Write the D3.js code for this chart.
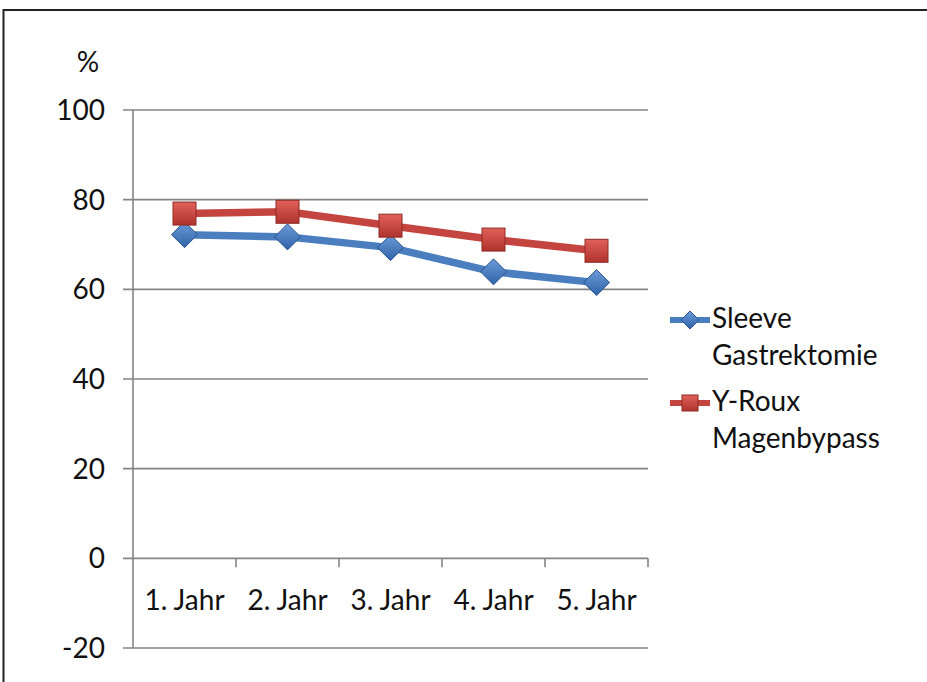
<!DOCTYPE html>
<html><head><meta charset="utf-8">
<script src="https://cdn.jsdelivr.net/npm/d3@7"></script>
<style>
html,body{margin:0;padding:0;background:#fff;}
svg{display:block;}
text{font-family:Lato,"Open Sans",sans-serif;fill:#111;}
</style></head>
<body>
<svg id="chart" width="927" height="682"></svg>
<script>
const categories = ["1. Jahr","2. Jahr","3. Jahr","4. Jahr","5. Jahr"];
const sleeve = [72.2, 71.7, 69.3, 63.9, 61.5];
const bypass = [76.9, 77.3, 74.2, 71.1, 68.6];
const seriesNames = [["Sleeve","Gastrektomie"],["Y-Roux","Magenbypass"]];
const yTicks = [-20, 0, 20, 40, 60, 80, 100];
const yUnit = "%";

const svg = d3.select("#chart");
const W = 927, H = 682;
const plot = {left:133, right:648, top:110, bottom:648};

const defs = svg.append("defs");
function grad(id, c1, c2){
  const g = defs.append("linearGradient").attr("id", id).attr("x1","0").attr("y1","0").attr("x2","0").attr("y2","1");
  g.append("stop").attr("offset","0%").attr("stop-color", c1);
  g.append("stop").attr("offset","100%").attr("stop-color", c2);
}
grad("gBlue", "#6c9bd8", "#2f63a8");
grad("gRed", "#e0625b", "#b0322c");

// frame (only top and left visible; cropped)
svg.append("rect").attr("x",3.5).attr("y",10).attr("width",W+20).attr("height",H+20)
  .attr("fill","none").attr("stroke","#222").attr("stroke-width",2);

const x = d3.scaleBand().domain(categories).range([plot.left, plot.right]).padding(0);
const y = d3.scaleLinear().domain([-20, 100]).range([plot.bottom, plot.top]);

// gridlines
svg.append("g").selectAll("line").data(yTicks).join("line")
  .attr("x1", plot.left - 10).attr("x2", plot.right)
  .attr("y1", d => y(d)).attr("y2", d => y(d))
  .attr("stroke", "#858585").attr("stroke-width", 1.6);

// y axis line
svg.append("line").attr("x1", plot.left).attr("x2", plot.left)
  .attr("y1", y(100)).attr("y2", y(-20)).attr("stroke","#858585").attr("stroke-width",1.6);

// y labels
svg.append("g").selectAll("text").data(yTicks).join("text")
  .attr("x", 105).attr("y", d => y(d)).attr("dy","0.36em")
  .attr("text-anchor","end").attr("font-size",28).text(d => d);

svg.append("text").attr("x", 88).attr("y", 72).attr("text-anchor","middle")
  .attr("font-size",28).text(yUnit);

// category ticks along 0 line
const boundaries = categories.map(c => x(c) + x.bandwidth());
svg.append("g").selectAll("line").data(boundaries).join("line")
  .attr("x1", d => d).attr("x2", d => d)
  .attr("y1", y(0)).attr("y2", y(0) + 9)
  .attr("stroke","#858585").attr("stroke-width",1.6);

// category labels
svg.append("g").selectAll("text").data(categories).join("text")
  .attr("x", d => x(d) + x.bandwidth()/2).attr("y", y(0) + 52)
  .attr("text-anchor","middle").attr("font-size",28).text(d => d);

const cx = (d,i) => x(categories[i]) + x.bandwidth()/2;
const line = d3.line().x((d,i) => cx(d,i)).y(d => y(d));

// lines
svg.append("path").datum(sleeve).attr("d", line).attr("fill","none")
  .attr("stroke","#4a7ebf").attr("stroke-width",7.5).attr("stroke-linejoin","round");
svg.append("path").datum(bypass).attr("d", line).attr("fill","none")
  .attr("stroke","#c4453f").attr("stroke-width",7.5).attr("stroke-linejoin","round");

const diamond = s => `M0,${-s}L${s},0L0,${s}L${-s},0Z`;

// markers
svg.append("g").selectAll("path").data(sleeve).join("path")
  .attr("transform", (d,i) => `translate(${cx(d,i)},${y(d)})`)
  .attr("d", diamond(13))
  .attr("fill","url(#gBlue)").attr("stroke","#2a5690").attr("stroke-width",1);
svg.append("g").selectAll("rect").data(bypass).join("rect")
  .attr("x", (d,i) => cx(d,i) - 11.5).attr("y", d => y(d) - 11.5)
  .attr("width",23).attr("height",23)
  .attr("fill","url(#gRed)").attr("stroke","#8f2a26").attr("stroke-width",1);

// legend
const legY = [320, 403];
const colors = ["#4a7ebf","#c4453f"];
const lg = svg.append("g");
seriesNames.forEach((nm, i) => {
  lg.append("line").attr("x1",670).attr("x2",710).attr("y1",legY[i]).attr("y2",legY[i])
    .attr("stroke",colors[i]).attr("stroke-width",6);
  if(i===0){
    lg.append("path").attr("transform",`translate(690,${legY[i]})`).attr("d", diamond(9))
      .attr("fill","url(#gBlue)").attr("stroke","#2a5690").attr("stroke-width",1);
  } else {
    lg.append("rect").attr("x",682).attr("y",legY[i]-8).attr("width",16).attr("height",16)
      .attr("fill","url(#gRed)").attr("stroke","#8f2a26").attr("stroke-width",1);
  }
  lg.append("text").attr("x",712).attr("y",legY[i]+8).attr("font-size",28).text(nm[0]);
  lg.append("text").attr("x",712).attr("y",legY[i]+45).attr("font-size",28).text(nm[1]);
});
</script>
</body></html>
